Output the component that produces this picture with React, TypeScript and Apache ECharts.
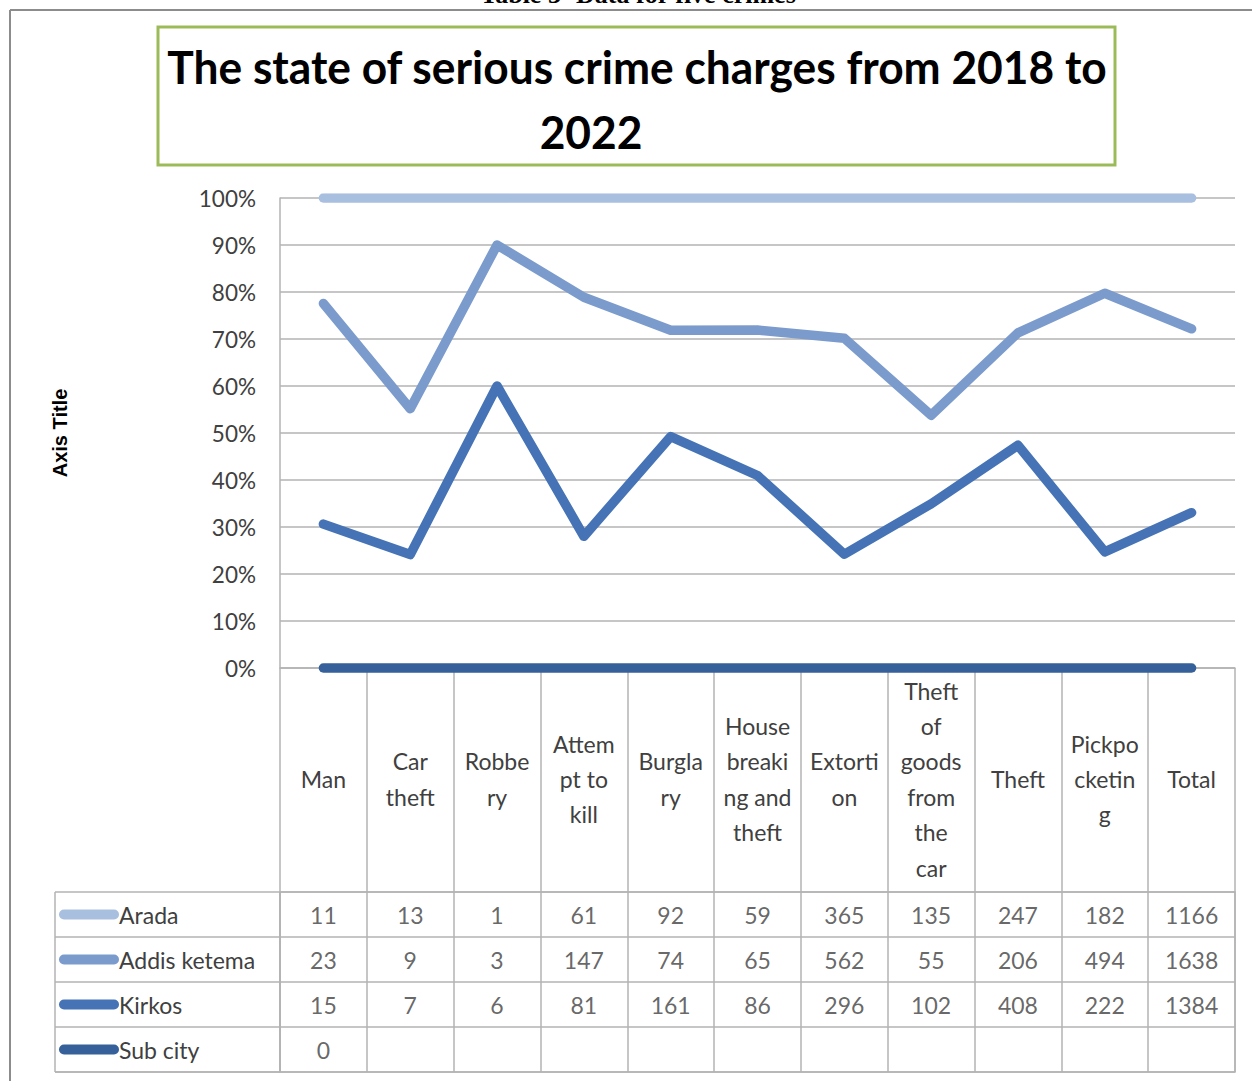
import React, { useEffect, useRef } from "react";
import * as echarts from "echarts";

const categories = [
  "Man",
  "Car theft",
  "Robbery",
  "Attempt to kill",
  "Burglary",
  "House breaking and theft",
  "Extortion",
  "Theft of goods from the car",
  "Theft",
  "Pickpocketing",
  "Total",
];
const categoryLabels = [
  "Man",
  "Car\ntheft",
  "Robbe\nry",
  "Attem\npt to\nkill",
  "Burgla\nry",
  "House\nbreaki\nng and\ntheft",
  "Extorti\non",
  "Theft\nof\ngoods\nfrom\nthe\ncar",
  "Theft",
  "Pickpo\ncketin\ng",
  "Total",
];
const rowNames = ["Arada", "Addis ketema", "Kirkos", "Sub city"];
const arada = [11, 13, 1, 61, 92, 59, 365, 135, 247, 182, 1166];
const addisKetema = [23, 9, 3, 147, 74, 65, 562, 55, 206, 494, 1638];
const kirkos = [15, 7, 6, 81, 161, 86, 296, 102, 408, 222, 1384];
const subCity: (number | null)[] = [0, null, null, null, null, null, null, null, null, null, null];
const rowColors = ["#a9bfe0", "#7b9bcd", "#4573b5", "#36609a"];

const titleLine1 = "The state of serious crime charges from 2018 to";
const titleLine2 = "2022";
const captionText = "Table 3- Data for five crimes";

const FONT = "Lato, 'Noto Sans', sans-serif";
const GRID_GRAY = "#b3b3b3";
const TEXT = "#404040";

export default function App() {
  const ref = useRef<HTMLDivElement>(null);

  useEffect(() => {
    if (!ref.current) return;
    const chart = echarts.init(ref.current, undefined, { renderer: "svg" });

    const rows = [arada, addisKetema, kirkos, subCity];
    const totals = categories.map((_, i) =>
      rows.reduce((s, r) => s + (r[i] ?? 0), 0)
    );
    const share = (arr: (number | null)[]) =>
      arr.map((v, i) => (totals[i] ? (v ?? 0) / totals[i] : 0));

    // stacking order bottom -> top: Sub city, Kirkos, Addis ketema, Arada
    const stackOrder = [3, 2, 1, 0];
    const lineSeries = stackOrder.map((ri) => ({
      name: rowNames[ri],
      type: "line",
      stack: "total",
      xAxisIndex: 0,
      yAxisIndex: 0,
      data: share(rows[ri]),
      symbol: "none",
      clip: ri === 0,
      lineStyle: { color: rowColors[ri], width: 9.5, cap: "round", join: "round" },
      itemStyle: { color: rowColors[ri] },
      z: 3,
    }));

    const tableData: [number, number, number][] = [];
    rows.forEach((r, ri) =>
      r.forEach((v, ci) => {
        if (v !== null && v !== undefined) tableData.push([ci, ri, v]);
      })
    );

    const rich: Record<string, any> = {
      t: { fontSize: 23, color: TEXT, fontFamily: FONT },
    };
    rowColors.forEach((c, i) => {
      rich["m" + i] = { width: 60, height: 10, backgroundColor: c, borderRadius: 5 };
    });

    chart.setOption({
      animation: false,
      backgroundColor: "#ffffff",
      textStyle: { fontFamily: FONT },
      grid: [
        { left: 280, top: 198, width: 955, height: 470 },
        {
          left: 280,
          top: 892,
          width: 955,
          height: 180,
          show: true,
          borderColor: GRID_GRAY,
          borderWidth: 1.5,
          backgroundColor: "transparent",
        },
      ],
      xAxis: [
        {
          type: "category",
          gridIndex: 0,
          data: categories,
          boundaryGap: true,
          axisLine: { show: true, lineStyle: { color: GRID_GRAY, width: 1.5 } },
          axisTick: {
            show: true,
            length: 224,
            interval: 0,
            lineStyle: { color: GRID_GRAY, width: 1.5 },
          },
          axisLabel: {
            interval: 0,
            margin: 111,
            verticalAlign: "middle",
            fontSize: 23,
            lineHeight: 35.4,
            color: TEXT,
            fontFamily: FONT,
            formatter: (_v: string, i: number) => categoryLabels[i],
          },
          splitLine: { show: false },
        },
        {
          type: "category",
          gridIndex: 1,
          data: categories,
          boundaryGap: true,
          axisLine: { show: false },
          axisTick: { show: false },
          axisLabel: { show: false },
          splitLine: { show: true, interval: 0, lineStyle: { color: GRID_GRAY, width: 1.5 } },
        },
      ],
      yAxis: [
        {
          type: "value",
          gridIndex: 0,
          min: 0,
          max: 1,
          interval: 0.1,
          name: "Axis Title",
          nameLocation: "middle",
          nameGap: 210,
          nameTextStyle: {
            fontFamily: "'Liberation Sans', Arial, sans-serif",
            fontWeight: "bold",
            fontSize: 20,
            color: "#000",
          },
          axisLine: { show: true, lineStyle: { color: GRID_GRAY, width: 1.5 } },
          axisTick: { show: false },
          axisLabel: {
            margin: 24,
            fontSize: 22.5,
            color: TEXT,
            fontFamily: FONT,
            formatter: (v: number) => Math.round(v * 100) + "%",
          },
          splitLine: { show: true, lineStyle: { color: GRID_GRAY, width: 1.5 } },
        },
        {
          type: "category",
          gridIndex: 1,
          data: rowNames,
          inverse: true,
          axisLine: { show: true, lineStyle: { color: GRID_GRAY, width: 1.5 } },
          axisTick: {
            show: true,
            length: 225,
            interval: 0,
            lineStyle: { color: GRID_GRAY, width: 1.5 },
          },
          axisLabel: {
            interval: 0,
            margin: 221,
            align: "left",
            formatter: (v: string, i: number) => `{m${i}|}{t|${v}}`,
            rich,
          },
          splitLine: { show: true, interval: 0, lineStyle: { color: GRID_GRAY, width: 1.5 } },
        },
      ],
      series: [
        ...lineSeries,
        {
          type: "scatter",
          xAxisIndex: 1,
          yAxisIndex: 1,
          data: tableData,
          symbolSize: 1,
          itemStyle: { color: "rgba(0,0,0,0)" },
          label: {
            show: true,
            position: "inside",
            fontSize: 23,
            color: TEXT,
            fontFamily: FONT,
            formatter: (p: any) => String(p.value[2]),
          },
        },
      ],
      graphic: [
        {
          type: "line",
          shape: { x1: 10, y1: 10, x2: 1252, y2: 10 },
          style: { stroke: "#8c8c8c", lineWidth: 2 },
        },
        {
          type: "line",
          shape: { x1: 10, y1: 10, x2: 10, y2: 1081 },
          style: { stroke: "#8c8c8c", lineWidth: 2 },
        },
        {
          type: "line",
          shape: { x1: 55, y1: 892, x2: 55, y2: 1072 },
          style: { stroke: GRID_GRAY, lineWidth: 1.5 },
        },
        {
          type: "line",
          shape: { x1: 55, y1: 1072, x2: 280, y2: 1072 },
          style: { stroke: GRID_GRAY, lineWidth: 1.5 },
        },
        {
          type: "text",
          x: 638,
          y: 7,
          style: {
            text: captionText,
            fontFamily: "'Liberation Serif', 'Times New Roman', serif",
            fontWeight: "bold",
            fontSize: 26,
            fill: "#000",
            align: "center",
            verticalAlign: "bottom",
          },
        },
        {
          type: "rect",
          shape: { x: 158, y: 27, width: 957, height: 138 },
          style: { fill: "none", stroke: "#9bbb59", lineWidth: 3 },
        },
        {
          type: "text",
          x: 637,
          y: 66,
          scaleX: 0.963,
          style: {
            text: titleLine1,
            fontFamily: FONT,
            fontWeight: "bold",
            fontSize: 46,
            fill: "#000",
            align: "center",
            verticalAlign: "middle",
          },
        },
        {
          type: "text",
          x: 591,
          y: 131,
          scaleX: 0.963,
          style: {
            text: titleLine2,
            fontFamily: FONT,
            fontWeight: "bold",
            fontSize: 46,
            fill: "#000",
            align: "center",
            verticalAlign: "middle",
          },
        },
      ],
    });

    return () => chart.dispose();
  }, []);

  return (
    <div
      ref={ref}
      style={{ position: "absolute", left: 0, top: 0, width: 1252, height: 1081 }}
    />
  );
}
